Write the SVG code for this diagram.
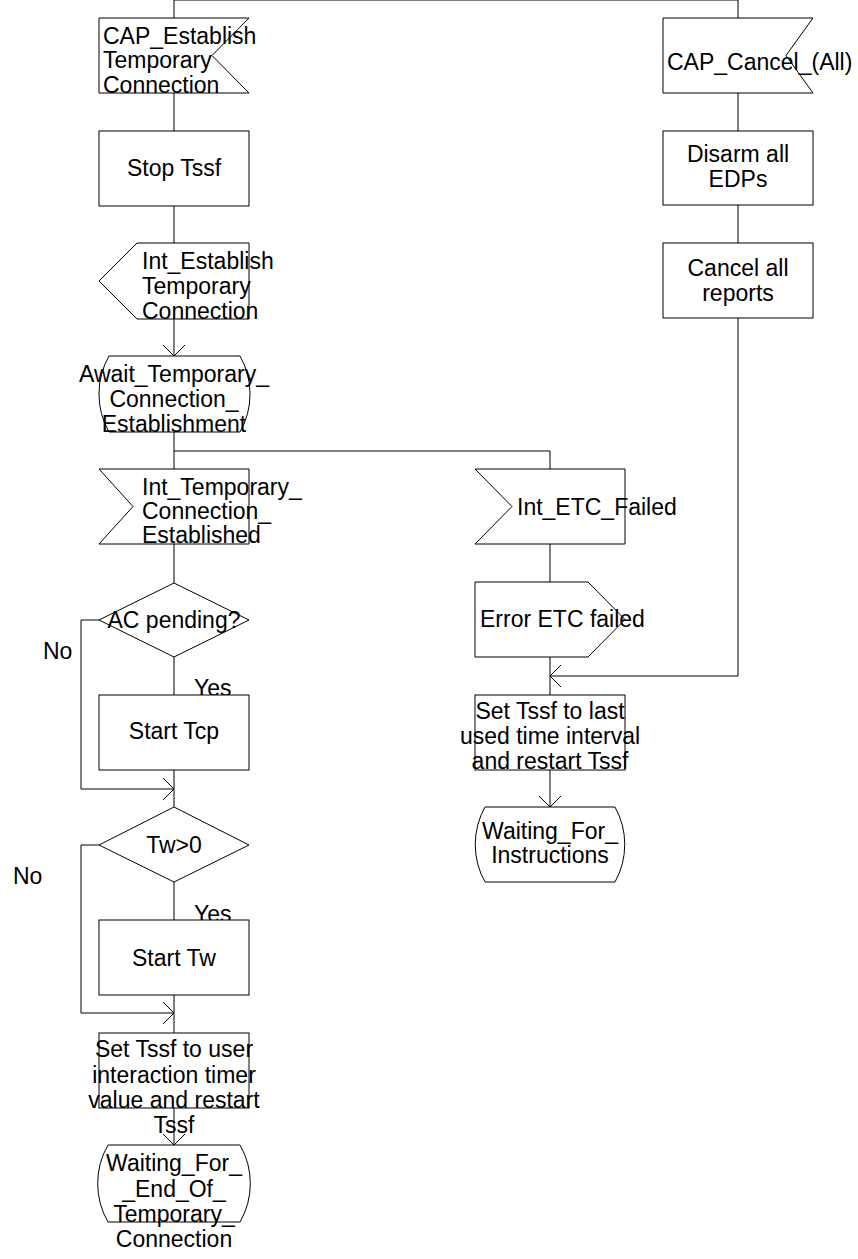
<svg xmlns="http://www.w3.org/2000/svg" width="858" height="1259" viewBox="0 0 858 1259">
<defs>
<style>
.s{fill:#fff;stroke:#000;stroke-width:1}
.c{fill:none;stroke:#000;stroke-width:1}
text{font-family:"Liberation Sans",Arial,sans-serif;font-size:23px;fill:#000}
.m{text-anchor:middle}
</style>
<marker id="ah" markerUnits="userSpaceOnUse" viewBox="-12 -12 24 24" markerWidth="24" markerHeight="24" refX="0" refY="0" orient="auto">
<path d="M-11,-11 L0,0 L-11,11" fill="none" stroke="#000" stroke-width="1"/>
</marker>
</defs>
<rect width="858" height="1259" fill="#fff"/>
<g id="connectors">
<path class="c" d="M174,18 V0 H738 V18"/>
<path class="c" d="M174,93 V131"/>
<path class="c" d="M174,206 V243"/>
<path class="c" d="M174,319 V356" marker-end="url(#ah)"/>
<path class="c" d="M174,432 V469"/>
<path class="c" d="M174,451 H550 V469"/>
<path class="c" d="M550,544 V582"/>
<path class="c" d="M550,657 V695"/>
<path class="c" d="M738,93 V131"/>
<path class="c" d="M738,205 V243"/>
<path class="c" d="M738,318 V676 H550" marker-end="url(#ah)"/>
<path class="c" d="M550,770 V807" marker-end="url(#ah)"/>
<path class="c" d="M174,544 V583"/>
<path class="c" d="M99,620 H81 V789 H174" marker-end="url(#ah)"/>
<path class="c" d="M174,657 V695"/>
<path class="c" d="M174,770 V807"/>
<path class="c" d="M99,845 H81 V1013 H174" marker-end="url(#ah)"/>
<path class="c" d="M174,882 V920"/>
<path class="c" d="M174,995 V1033"/>
<path class="c" d="M174,1108 V1145" marker-end="url(#ah)"/>
</g>
<g id="cap_establish">
<path class="s" d="M99,18 H249 L212,55.5 L249,93 H99 Z"/>
<text x="103" y="44">CAP_Establish</text>
<text x="103" y="68">Temporary</text>
<text x="103" y="93">Connection</text>
</g>
<g id="stop_tssf">
<rect class="s" x="99" y="131" width="150" height="75"/>
<text class="m" x="174" y="176">Stop Tssf</text>
</g>
<g id="int_establish">
<path class="s" d="M137,243 H249 V319 H137 L99,281 Z"/>
<text x="142" y="269">Int_Establish</text>
<text x="142" y="294">Temporary</text>
<text x="142" y="319">Connection</text>
</g>
<g id="await_state">
<path class="s" d="M109,356 H240 A77 77 0 0 1 240,432 H109 A77 77 0 0 1 109,356 Z"/>
<text class="m" x="174" y="382">Await_Temporary_</text>
<text class="m" x="174" y="407">Connection_</text>
<text class="m" x="174" y="432">Establishment</text>
</g>
<g id="int_temp_established">
<path class="s" d="M99,469 H249 V544 H99 L133,506.5 Z"/>
<text x="142" y="495">Int_Temporary_</text>
<text x="142" y="519">Connection_</text>
<text x="142" y="543">Established</text>
</g>
<g id="int_etc_failed">
<path class="s" d="M475,469 H625 V544 H475 L512,506.5 Z"/>
<text x="517" y="515">Int_ETC_Failed</text>
</g>
<g id="error_etc_failed">
<path class="s" d="M475,582 H588 L625,619.5 L588,657 H475 Z"/>
<text x="480" y="627">Error ETC failed</text>
</g>
<g id="cap_cancel">
<path class="s" d="M663,18 H813 L786,55.5 L813,93 H663 Z"/>
<text x="667" y="70">CAP_Cancel_(All)</text>
</g>
<g id="disarm">
<rect class="s" x="663" y="131" width="150" height="74"/>
<text class="m" x="738" y="162">Disarm all</text>
<text class="m" x="738" y="187">EDPs</text>
</g>
<g id="cancel_reports">
<rect class="s" x="663" y="243" width="150" height="75"/>
<text class="m" x="738" y="276">Cancel all</text>
<text class="m" x="738" y="301">reports</text>
</g>
<g id="set_tssf_last">
<rect class="s" x="475" y="695" width="150" height="75"/>
<text class="m" x="550" y="719">Set Tssf to last</text>
<text class="m" x="550" y="744">used time interval</text>
<text class="m" x="550" y="769">and restart Tssf</text>
</g>
<g id="waiting_instructions">
<path class="s" d="M485,807 H615 A77 77 0 0 1 615,882 H485 A77 77 0 0 1 485,807 Z"/>
<text class="m" x="550" y="839">Waiting_For_</text>
<text class="m" x="550" y="863">Instructions</text>
</g>
<g id="ac_pending">
<path class="s" d="M174,583 L249,620 L174,657 L99,620 Z"/>
<text class="m" x="174" y="628">AC pending?</text>
<text x="43" y="659">No</text>
<text x="194" y="696">Yes</text>
</g>
<g id="start_tcp">
<rect class="s" x="99" y="695" width="150" height="75"/>
<text class="m" x="174" y="739">Start Tcp</text>
</g>
<g id="tw_check">
<path class="s" d="M174,807 L249,845 L174,882 L99,845 Z"/>
<text class="m" x="174" y="853">Tw&gt;0</text>
<text x="13" y="884">No</text>
<text x="194" y="922">Yes</text>
</g>
<g id="start_tw">
<rect class="s" x="99" y="920" width="150" height="75"/>
<text class="m" x="174" y="966">Start Tw</text>
</g>
<g id="set_tssf_user">
<rect class="s" x="99" y="1033" width="150" height="75"/>
<text class="m" x="174" y="1057">Set Tssf to user</text>
<text class="m" x="174" y="1083">interaction timer</text>
<text class="m" x="174" y="1108">value and restart</text>
<text class="m" x="174" y="1133">Tssf</text>
</g>
<g id="waiting_end_temp">
<path class="s" d="M108,1145 H240 A77 77 0 0 1 240,1222 H108 A77 77 0 0 1 108,1145 Z"/>
<text class="m" x="174" y="1171">Waiting_For_</text>
<text class="m" x="174" y="1197">_End_Of_</text>
<text class="m" x="174" y="1222">Temporary_</text>
<text class="m" x="174" y="1247">Connection</text>
</g>
</svg>
